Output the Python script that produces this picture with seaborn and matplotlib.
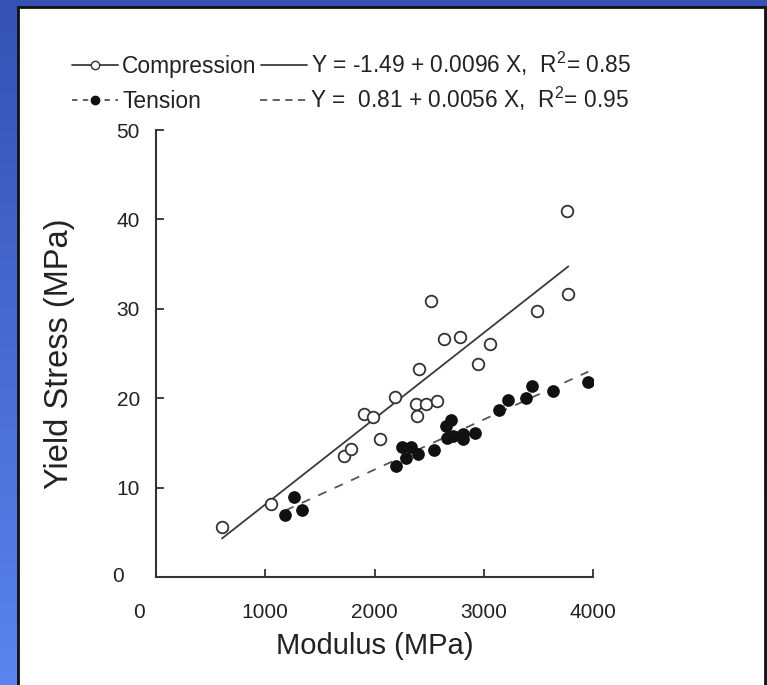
import numpy as np
import matplotlib
matplotlib.use("Agg")
import matplotlib.pyplot as plt
from matplotlib.lines import Line2D
from matplotlib.patches import Rectangle
from matplotlib.colors import LinearSegmentedColormap
import seaborn as sns

# values
comp_x = [604, 1053, 1724, 1782, 1907, 1983, 2050, 2188, 2377, 2389, 2407,
          2468, 2517, 2569, 2636, 2783, 2944, 3057, 3484, 3765, 3774]
comp_y = [5.6, 8.2, 13.5, 14.3, 18.2, 17.9, 15.4, 20.1, 19.4, 18.0, 23.3,
          19.4, 30.9, 19.7, 26.6, 26.8, 23.8, 26.1, 29.7, 40.9, 31.7]
tens_x = [1184, 1266, 1334, 2197, 2249, 2286, 2334, 2401, 2548, 2654, 2660,
          2697, 2716, 2807, 2813, 2920, 3140, 3226, 3384, 3439, 3630, 3957]
tens_y = [6.9, 8.9, 7.5, 12.4, 14.5, 13.3, 14.5, 13.8, 14.2, 16.9, 15.5,
          17.6, 15.8, 15.4, 16.0, 16.1, 18.7, 19.8, 20.0, 21.4, 20.8, 21.8]

# fit coefficients as printed on the chart (intercept, slope)
comp_fit = (-1.49, 0.0096)
tens_fit = (0.81, 0.0056)

series_labels = ["Compression", "Tension"]
fit_labels = ["Y = -1.49 + 0.0096 X,  R$^2$= 0.85",
              "Y =  0.81 + 0.0056 X,  R$^2$= 0.95"]
xticks = [0, 1000, 2000, 3000, 4000]
yticks = [0, 10, 20, 30, 40, 50]

sns.set_theme(style="ticks")
plt.rcParams['font.family'] = ['Liberation Sans', 'DejaVu Sans']
plt.rcParams['mathtext.fontset'] = 'custom'
plt.rcParams['mathtext.rm'] = 'Liberation Sans'
plt.rcParams['mathtext.it'] = 'Liberation Sans:italic'

W, H = 767, 685
fig = plt.figure(figsize=(W / 100, H / 100), dpi=100)

# slide background: blue gradient + white panel
bg = fig.add_axes([0, 0, 1, 1], zorder=-10)
bg.axis('off')
blue = LinearSegmentedColormap.from_list("bl", ["#3551b4", "#5a84ee"])
bg.imshow(np.linspace(0, 1, 256).reshape(-1, 1), aspect='auto', cmap=blue,
          extent=[0, 1, 0, 1])
bg.add_patch(Rectangle((18 / W, -0.01), (765 - 18) / W, 1.01 - 7 / H,
                       facecolor='white', edgecolor='#111111', lw=2))
bg.set_xlim(0, 1)
bg.set_ylim(0, 1)

ax = fig.add_axes([156 / W, 108 / H, 437 / W, 447 / H])
ax.patch.set_alpha(0)

line_col = '#3a3a3a'
dash_col = '#555555'

# regression lines over the range of each data set
cx = np.array([min(comp_x), max(comp_x)])
tx = np.array([min(tens_x), max(tens_x)])
sns.lineplot(x=cx, y=comp_fit[0] + comp_fit[1] * cx, ax=ax, color=line_col, lw=1.3)
sns.lineplot(x=tx, y=tens_fit[0] + tens_fit[1] * tx, ax=ax, color=dash_col, lw=1.3,
             linestyle=(0, (5, 5)))

sns.scatterplot(x=comp_x, y=comp_y, ax=ax, marker='o', s=70, color='white',
                edgecolor='#333333', linewidth=1.3, zorder=3)
sns.scatterplot(x=tens_x, y=tens_y, ax=ax, marker='o', s=66, color='#111111',
                edgecolor='#111111', linewidth=1.0, zorder=3)

ax.set_xlim(0, 4000)
ax.set_ylim(0, 50)
sns.despine(ax=ax)
for s in ['left', 'bottom']:
    ax.spines[s].set_linewidth(1.5)
    ax.spines[s].set_color('#333333')

ax.set_xticks(xticks)
ax.set_xticklabels([''] + [str(v) for v in xticks[1:]])
ax.set_yticks(yticks)
ax.set_yticklabels([''] + [str(v) for v in yticks[1:]])
ax.tick_params(direction='in', length=6, width=1.3, color='#333333',
               labelsize=15, labelcolor='#222222')
ax.tick_params(axis='x', pad=19)
ax.tick_params(axis='y', pad=11.5)
ax.grid(False)

# the two zeros sit off the origin like in the original
ax.annotate("0", xy=(0, 0), xytext=(-12, -19), textcoords='offset points',
            ha='center', va='top', fontsize=15, color='#222222')
ax.annotate("0", xy=(0, 0), xytext=(-23, 0), textcoords='offset points',
            ha='right', va='center', fontsize=15, color='#222222')

ax.set_xlabel("Modulus (MPa)", fontsize=21, color='#222222')
ax.set_ylabel("Yield Stress (MPa)", fontsize=23.5, color='#222222')
ax.xaxis.set_label_coords(0.5, -0.123)
ax.yaxis.set_label_coords(-0.185, 0.5)

# legend: one row per series so both columns stay on the same baseline
h1 = Line2D([], [], color=line_col, lw=1.3, marker='o', markersize=6,
            markerfacecolor='white', markeredgecolor='#333333')
h2 = Line2D([], [], color=dash_col, lw=1.3, ls=(0, (3, 3)), marker='o',
            markersize=6, markerfacecolor='#111111', markeredgecolor='#111111')
h3 = Line2D([], [], color=line_col, lw=1.3)
h4 = Line2D([], [], color=dash_col, lw=1.3, ls=(0, (4, 3)))

leg_kw = dict(ncol=2, loc='upper left', frameon=False, fontsize=16.4,
              handlelength=2.0, handletextpad=0.2, borderpad=0,
              borderaxespad=0, labelcolor='#222222')
leg1 = fig.legend([h1, h3], [series_labels[0], fit_labels[0]],
                  bbox_to_anchor=(72 / W, 1 - 50 / H), columnspacing=0.2, **leg_kw)
leg2 = fig.legend([h2, h4], [series_labels[1], fit_labels[1]],
                  bbox_to_anchor=(72 / W, 1 - 85 / H), columnspacing=2.6, **leg_kw)

fig.savefig('out.png', dpi=100)
